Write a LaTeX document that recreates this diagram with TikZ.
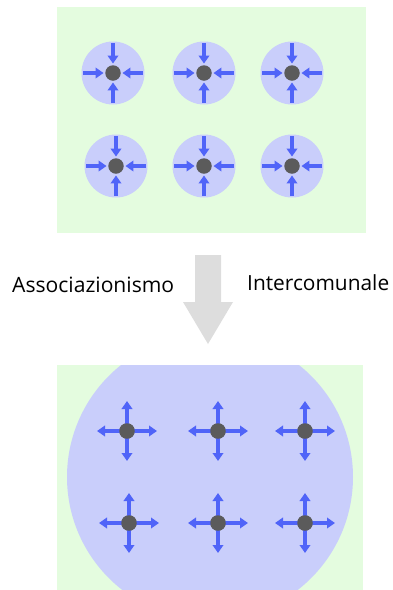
\documentclass[tikz,border=0pt]{standalone}
\usepackage{fontspec}
\setmainfont{Open Sans}
\usetikzlibrary{arrows.meta,calc}
\definecolor{paleGreen}{HTML}{E4FCDF}
\definecolor{lavender}{HTML}{C9CEFB}
\definecolor{flowBlue}{HTML}{5064F8}
\definecolor{hubGray}{HTML}{5B5B5B}
\definecolor{bigArrow}{HTML}{DDDDDD}
\tikzset{
  panel/.style={fill=paleGreen, draw=none},
  basin/.style={circle, fill=lavender, draw=none, inner sep=0pt, minimum size=63pt},
  hub/.style={circle, fill=hubGray, draw=none, inner sep=0pt, minimum size=15.5pt},
  flow/.style={draw=flowBlue, line width=4.2pt,
    -{Triangle[width=10.5pt,length=8pt]}, color=flowBlue},
  label/.style={anchor=base west, inner sep=0pt, font=\fontsize{20}{24}\selectfont}
}
\begin{document}
\begin{tikzpicture}[x=1pt,y=-1pt]
\useasboundingbox (0,0) rectangle (393,590);

% upper panel: separate municipalities, each drawing inward
\fill[panel] (57,7) rectangle (366,233);
\foreach \n/\x/\y in {a/113/73, b/204/73, c/292/73, d/116/166, e/204/166, f/292/166} {
  \node[basin] (ring\n) at (\x,\y) {};
  \node[hub] (hub\n) at (\x,\y) {};
  \foreach \d/\ang in {l/180, r/0, u/90, w/270} {
    \coordinate (in\n\d) at ($(\x,\y)+(\ang:30pt)$);
    \draw[flow, shorten >=1.5pt] (in\n\d) -- (hub\n);
  }
}

% transition arrow and caption
\fill[bigArrow] (195,255) -- (221,255) -- (221,302) -- (233,302) -- (208,344)
  -- (183,302) -- (195,302) -- cycle;
\node[label] (lblA) at (12,292) {\resizebox{162pt}{!}{Associazionismo}};
\node[label] (lblB) at (247,290) {\resizebox{142pt}{!}{Intercomunale}};

% lower panel: one shared area, each centre drawing outward
\begin{scope}
  \clip (57,365) rectangle (363,590);
  \fill[panel] (57,365) rectangle (363,590);
  \node[circle, fill=lavender, inner sep=0pt, minimum size=286pt] (union) at (210,477) {};
\end{scope}
\foreach \n/\x/\y in {a/127/431, b/218/431, c/305/431, d/129/523, e/218/523, f/305/523} {
  \node[hub] (core\n) at (\x,\y) {};
  \foreach \d/\ang in {l/180, r/0, u/90, w/270} {
    \coordinate (out\n\d) at ($(\x,\y)+(\ang:30pt)$);
    \draw[flow, shorten <=-1pt] (core\n) -- (out\n\d);
  }
}
\foreach \n in {a,b,c,d,e,f} \node[hub] at (core\n) {};
\end{tikzpicture}
\end{document}
